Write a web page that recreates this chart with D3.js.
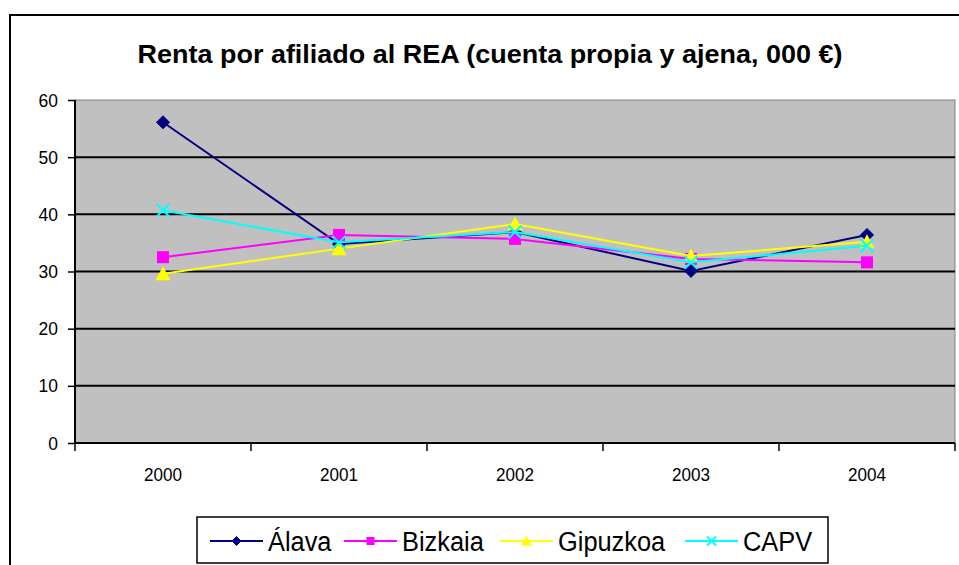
<!DOCTYPE html>
<html>
<head>
<meta charset="utf-8">
<script src="https://cdn.jsdelivr.net/npm/d3@7"></script>
<style>
  body { margin: 0; background: #fff; }
  svg { display: block; font-family: "Liberation Sans", Arial, sans-serif; }
</style>
</head>
<body>
<svg id="chart" width="959" height="565"></svg>
<script>
// data
var years = ["2000", "2001", "2002", "2003", "2004"];
var alava = [56.1, 34.8, 36.9, 30.1, 36.4];
var bizkaia = [32.5, 36.4, 35.7, 32.2, 31.6];
var gipuzkoa = [29.6, 34.0, 38.3, 32.7, 35.2];
var capv = [40.7, 35.1, 36.9, 31.6, 34.5];
var yTicks = [0, 10, 20, 30, 40, 50, 60];

var series = [
  { name: "Álava", values: alava, color: "#000080", marker: "diamond" },
  { name: "Bizkaia", values: bizkaia, color: "#FF00FF", marker: "square" },
  { name: "Gipuzkoa", values: gipuzkoa, color: "#FFFF00", marker: "triangle" },
  { name: "CAPV", values: capv, color: "#00FFFF", marker: "x" }
];

var svg = d3.select("#chart");

// squeeze text a bit horizontally, like the narrow Excel rendering
function squeeze(sel, k) {
  sel.each(function() {
    var w = this.getComputedTextLength();
    d3.select(this).attr("textLength", w * k).attr("lengthAdjust", "spacingAndGlyphs");
  });
}

// outer chart border (runs past the window on right/bottom)
svg.append("rect")
  .attr("x", 10).attr("y", 15)
  .attr("width", 1000).attr("height", 600)
  .attr("fill", "#fff")
  .attr("stroke", "#000").attr("stroke-width", 2);

svg.append("text")
  .attr("x", 490).attr("y", 63)
  .attr("text-anchor", "middle")
  .attr("font-size", 26).attr("font-weight", "bold")
  .attr("textLength", 705).attr("lengthAdjust", "spacingAndGlyphs")
  .text("Renta por afiliado al REA (cuenta propia y ajena, 000 €)");

var plot = { left: 75, top: 100, right: 955, bottom: 443 };

var x = d3.scaleBand().domain(years).range([plot.left, plot.right]);
var y = d3.scaleLinear().domain([0, 60]).range([plot.bottom, plot.top]);

// plot background
svg.append("rect")
  .attr("x", plot.left).attr("y", plot.top)
  .attr("width", plot.right - plot.left).attr("height", plot.bottom - plot.top)
  .attr("fill", "#C0C0C0")
  .attr("stroke", "#808080").attr("stroke-width", 1);

// gridlines
svg.append("g").selectAll("line")
  .data(yTicks.filter(function(d) { return d > 0 && d < 60; }))
  .join("line")
  .attr("x1", plot.left).attr("x2", plot.right)
  .attr("y1", function(d) { return y(d); }).attr("y2", function(d) { return y(d); })
  .attr("stroke", "#000").attr("stroke-width", 2);

// y axis
var yAxis = svg.append("g")
  .attr("transform", "translate(" + plot.left + ",0)")
  .call(d3.axisLeft(y).tickValues(yTicks).tickSize(7).tickPadding(10));
yAxis.select(".domain").attr("stroke-width", 2).attr("d", "M0," + plot.top + "V" + plot.bottom);
yAxis.selectAll(".tick line").attr("stroke-width", 1.5);
yAxis.selectAll("text").attr("font-size", 19).attr("fill", "#000")
  .attr("font-family", "Liberation Sans, Arial, sans-serif")
  .call(squeeze, 0.92);

// x axis, ticks between categories
var xAxis = svg.append("g")
  .attr("transform", "translate(0," + plot.bottom + ")");
xAxis.append("line")
  .attr("x1", plot.left).attr("x2", plot.right)
  .attr("stroke", "#000").attr("stroke-width", 2);
var bounds = years.map(function(d) { return x(d); }).concat([x(years[years.length - 1]) + x.bandwidth()]);
xAxis.selectAll("line.tk").data(bounds).join("line")
  .attr("class", "tk")
  .attr("x1", function(d) { return d; }).attr("x2", function(d) { return d; })
  .attr("y1", 0).attr("y2", 8)
  .attr("stroke", "#000").attr("stroke-width", 1.5);
xAxis.selectAll("text").data(years).join("text")
  .attr("x", function(d) { return x(d) + x.bandwidth() / 2; })
  .attr("y", 38)
  .attr("text-anchor", "middle")
  .attr("font-size", 19)
  .text(function(d) { return d; })
  .call(squeeze, 0.9);

function cx(i) { return x(years[i]) + x.bandwidth() / 2; }

function drawMarker(g, type, color, size) {
  var s = size;
  if (type === "diamond") {
    g.append("path").attr("d", "M0," + (-s) + "L" + s + ",0L0," + s + "L" + (-s) + ",0Z")
      .attr("fill", color).attr("stroke", color).attr("stroke-width", 1);
  } else if (type === "square") {
    g.append("rect").attr("x", -s + 0.5).attr("y", -s + 0.5)
      .attr("width", 2 * s - 1).attr("height", 2 * s - 1).attr("fill", color);
  } else if (type === "triangle") {
    g.append("path").attr("d", "M0," + (-s - 1) + "L" + (s + 1) + "," + s + "L" + (-s - 1) + "," + s + "Z")
      .attr("fill", color);
  } else {
    g.append("path").attr("d", "M" + (-s) + "," + (-s) + "L" + s + "," + s + "M" + s + "," + (-s) + "L" + (-s) + "," + s)
      .attr("stroke", color).attr("stroke-width", 2).attr("fill", "none");
  }
}

var line = d3.line()
  .x(function(d, i) { return cx(i); })
  .y(function(d) { return y(d); });

series.forEach(function(s) {
  var g = svg.append("g");
  g.append("path")
    .datum(s.values)
    .attr("d", line)
    .attr("fill", "none")
    .attr("stroke", s.color).attr("stroke-width", 2);
  s.values.forEach(function(v, i) {
    var m = g.append("g").attr("transform", "translate(" + cx(i) + "," + y(v) + ")");
    drawMarker(m, s.marker, s.color, 6.5);
  });
});

// legend
var legend = svg.append("g");
legend.append("rect")
  .attr("x", 197).attr("y", 517).attr("width", 631).attr("height", 46)
  .attr("fill", "#fff").attr("stroke", "#000").attr("stroke-width", 1.5);
var legX = [210, 344, 500, 685];
series.forEach(function(s, i) {
  var g = legend.append("g").attr("transform", "translate(" + legX[i] + ",541)");
  g.append("line").attr("x1", 0).attr("x2", 53)
    .attr("stroke", s.color).attr("stroke-width", 2);
  var m = g.append("g").attr("transform", "translate(26.5,0)");
  drawMarker(m, s.marker, s.color, 4.5);
  g.append("text").attr("x", 58).attr("y", 10)
    .attr("font-size", 27)
    .text(s.name)
    .call(squeeze, 0.94);
});
</script>
</body>
</html>
